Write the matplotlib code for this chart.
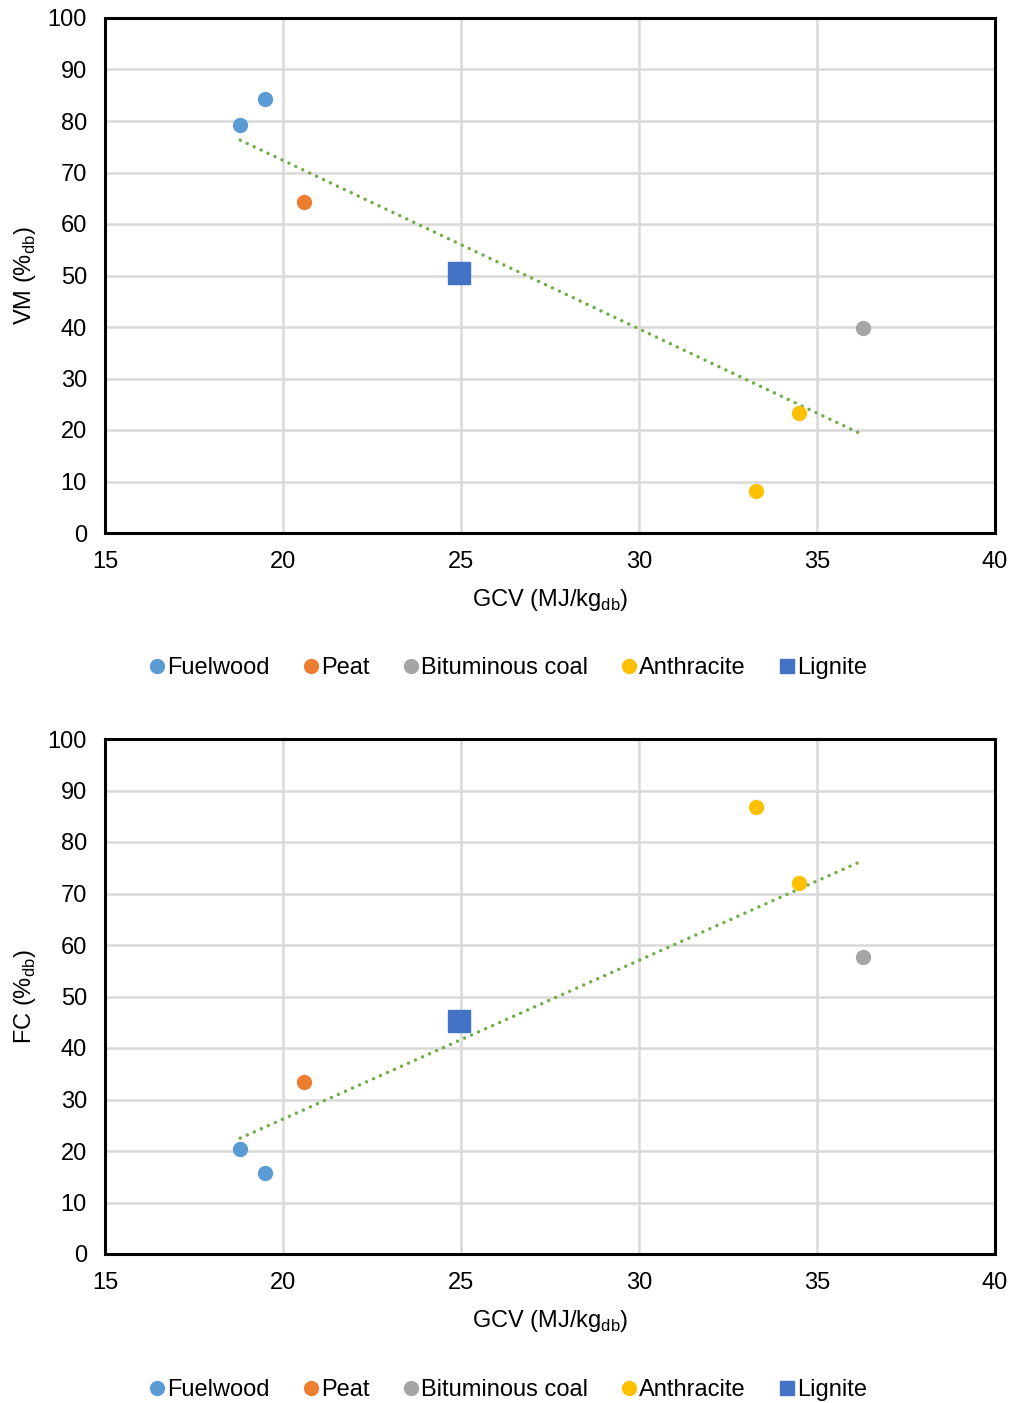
import numpy as np
import matplotlib
matplotlib.use("Agg")
import matplotlib.pyplot as plt
from matplotlib.lines import Line2D

plt.rcParams['font.family'] = ['Liberation Sans', 'DejaVu Sans']

categories = ["Fuelwood", "Peat", "Bituminous coal", "Anthracite", "Lignite"]
colors = ["#5B9BD5", "#ED7D31", "#A5A5A5", "#FFC000", "#4472C4"]

gcv = {
    "Fuelwood": [18.8, 19.5],
    "Peat": [20.6],
    "Bituminous coal": [36.3],
    "Anthracite": [34.5, 33.3],
    "Lignite": [24.95],
}
vm = {
    "Fuelwood": [79.2, 84.3],
    "Peat": [64.3],
    "Bituminous coal": [39.8],
    "Anthracite": [23.3, 8.2],
    "Lignite": [50.5],
}
fc = {
    "Fuelwood": [20.4, 15.7],
    "Peat": [33.4],
    "Bituminous coal": [57.7],
    "Anthracite": [72.0, 86.8],
    "Lignite": [45.2],
}

xticks = [15, 20, 25, 30, 35, 40]
yticks = [0, 10, 20, 30, 40, 50, 60, 70, 80, 90, 100]

W, H = 1011, 1403
fig = plt.figure(figsize=(W / 100, H / 100), dpi=100)

FS = 17


def panel(rect, ydata, ylabel, legend_y):
    ax = fig.add_axes(rect)
    for cat, col in zip(categories, colors):
        if cat == "Lignite":
            ax.plot(gcv[cat], ydata[cat], 's', color=col, markersize=15.5, zorder=4)
        else:
            ax.plot(gcv[cat], ydata[cat], 'o', color=col, markersize=10, zorder=4)
    allx = np.concatenate([gcv[c] for c in categories])
    ally = np.concatenate([ydata[c] for c in categories])
    k, b = np.polyfit(allx, ally, 1)
    xs = np.array([allx.min(), allx.max()])
    ax.plot(xs, k * xs + b, linestyle=(0, (0.01, 2.2)), color="#70AD47", lw=2.5,
            dash_capstyle='round', zorder=3)
    ax.set_xlim(15, 40)
    ax.set_ylim(0, 100)
    ax.set_xticks(xticks)
    ax.set_yticks(yticks)
    ax.grid(True, color="#D9D9D9", lw=1.8, zorder=0)
    ax.set_axisbelow(True)
    for s in ax.spines.values():
        s.set_linewidth(2.2)
        s.set_color("black")
    ax.tick_params(length=0, labelsize=FS, pad=13, colors="#000000")
    ax.set_xlabel(r"GCV (MJ/kg$_{\mathregular{db}}$)", fontsize=FS, labelpad=10)
    ax.set_ylabel(r"%s (%%$_{\mathregular{db}}$)" % ylabel, fontsize=FS, labelpad=7)
    handles = []
    for cat, col in zip(categories, colors):
        m = 's' if cat == "Lignite" else 'o'
        handles.append(Line2D([], [], marker=m, linestyle='none', color=col, markersize=10))
    fig.legend(handles, categories, loc='center', bbox_to_anchor=(0.503, legend_y),
               ncol=5, frameon=False, fontsize=FS, handlelength=0.6, handletextpad=0.12,
               columnspacing=1.45)
    return ax


left = 105 / W
width = 890 / W
h = 515 / H
panel([left, 1 - 533 / H, width, h], vm, "VM", 1 - 668 / H)
panel([left, 1 - 1254 / H, width, h], fc, "FC", 1 - 1390 / H)

fig.savefig("out.png", dpi=100)
